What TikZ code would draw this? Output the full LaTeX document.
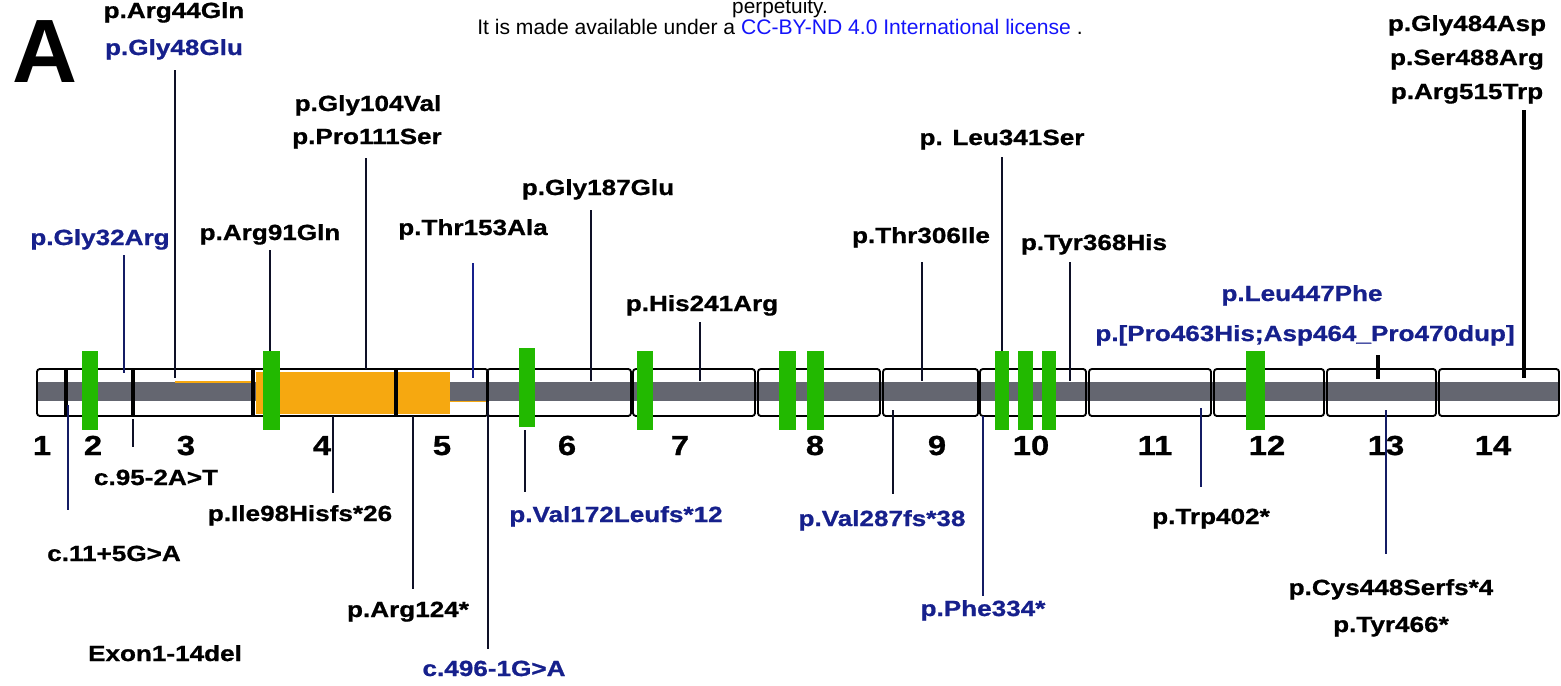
\documentclass[tikz,border=0pt]{standalone}
\usepackage{fontspec}
\setmainfont{Liberation Sans}
\newfontfamily\labfont[FakeStretch=1.19,UprightFont={* Bold},FakeBold=0.9]{Liberation Sans}
\definecolor{navy}{RGB}{22,32,140}
\definecolor{linkblue}{RGB}{20,20,250}
\definecolor{exgreen}{RGB}{34,185,0}
\definecolor{orng}{RGB}{246,168,16}
\definecolor{bandgray}{RGB}{100,102,112}
\definecolor{leadc}{RGB}{14,16,38}
\definecolor{leadnavy}{RGB}{20,28,100}
\newcommand\leadline[5][]{%
  \coordinate (#2a) at (#3,#4);
  \coordinate (#2b) at (#3,#5);
  \draw[leader,#1] (#2a) -- (#2b);}
\begin{document}
\begin{tikzpicture}[x=0.025cm,y=-0.025cm,
  lab/.style={font=\labfont\fontsize{15.6}{18}\selectfont, inner sep=0pt, anchor=base, text=black},
  blab/.style={lab, text=navy},
  num/.style={font=\labfont\fontsize{19.6}{22}\selectfont, inner sep=0pt, anchor=base},
  boxline/.style={draw=black, line width=1.3pt, rounded corners=2pt},
  divider/.style={line width=2.6pt, draw=black},
  gbar/.style={fill=exgreen},
  leader/.style={line width=1.8pt, draw=leadc},
  thickleader/.style={line width=2.8pt, draw=black}]
\useasboundingbox (0,0) rectangle (1561,685);
\clip (0,0) rectangle (1561,685);
% header text
\node[anchor=base, inner sep=0pt, font=\fontsize{14.8}{17}\selectfont] (perp) at (780,13.5) {perpetuity.};
\node[anchor=base, inner sep=0pt, font=\fontsize{15}{17}\selectfont] (lic) at (780,34) {It is made available under a \textcolor{linkblue}{CC-BY-ND 4.0 International license} .};
\node[anchor=base, inner sep=0pt, font=\bfseries\fontsize{64}{70}\selectfont] (panelA) at (45,82) {A};
% gene bar
\fill[bandgray] (37,382) rectangle (1559,401);
\fill[orng] (256,372) rectangle (450,414);
\draw[orng, line width=1pt] (175,382) -- (253,382);
\draw[orng, line width=1pt] (450,401.5) -- (488,401.5);
\draw[boxline] (37,369) rectangle (488,416);
\foreach \a/\b in {487/631, 633/755, 758/880, 883/978, 980/1086, 1089/1211, 1214/1324, 1327/1436, 1439/1559}
  \draw[boxline] (\a,369) rectangle (\b,416);
\foreach \x in {66,133,253,396}
  \draw[divider] (\x,369) -- (\x,416);
\foreach \a/\b in {82/98, 263/280, 637/653, 779/796, 807/824, 995/1009, 1018/1033, 1042/1056, 1246/1265}
  \fill[gbar] (\a,351) rectangle (\b,430);
\fill[gbar] (519,348) rectangle (535,427);
% exon numbers
\foreach \n/\x in {1/42, 2/93, 3/186, 4/322, 5/442, 6/567, 7/680, 8/815, 9/937, 10/1031, 11/1155, 12/1267, 13/1386, 14/1493}
  \node[num] (e\n) at (\x,455) {\n};
% leaders above
\leadline{l48}{175}{70}{378}
\leadline{l104}{366}{158}{369}
\leadline[draw=leadnavy]{l32}{124}{255}{373}
\leadline{l91}{270}{250}{351}
\leadline[draw=navy]{l153}{473}{263}{378}
\leadline{l187}{591}{210}{381}
\leadline{l241}{700}{322}{381}
\leadline{l306}{922}{262}{381}
\leadline{l341}{1002}{157}{351}
\leadline{l368}{1070}{262}{381}
\leadline[thickleader]{l463}{1378}{355}{379}
\leadline[thickleader]{l515}{1524}{110}{378}
% leaders below
\leadline[draw=leadnavy]{l11}{68}{405}{510}
\leadline{l95}{133}{419}{447}
\leadline{l98}{333}{416}{493}
\leadline{l124}{413}{416}{589}
\leadline{l496}{488}{402}{649}
\leadline{l172}{525}{430}{492}
\leadline{l287}{893}{410}{494}
\leadline[draw=leadnavy]{l334}{983}{416}{596}
\leadline[draw=leadnavy]{l402}{1201}{408}{487}
\leadline[draw=leadnavy]{l448}{1386}{410}{554}
% labels above
\node[lab] (t44) at (174,18) {p.Arg44Gln};
\node[blab] (t48) at (174,55) {p.Gly48Glu};
\node[lab] (t104) at (368,111) {p.Gly104Val};
\node[lab] (t111) at (367,144) {p.Pro111Ser};
\node[blab] (t32) at (100,245) {p.Gly32Arg};
\node[lab] (t91) at (270,240) {p.Arg91Gln};
\node[lab] (t153) at (473,235) {p.Thr153Ala};
\node[lab] (t187) at (598,195) {p.Gly187Glu};
\node[lab] (t241) at (702,311) {p.His241Arg};
\node[lab] (t306) at (921,243) {p.Thr306Ile};
\node[lab] (t341) at (1002,145) {p. Leu341Ser};
\node[lab] (t368) at (1094,250) {p.Tyr368His};
\node[blab] (t447) at (1302,301) {p.Leu447Phe};
\node[blab] (t463) at (1305,341) {p.[Pro463His;Asp464\_Pro470dup]};
\node[lab] (t484) at (1467,31) {p.Gly484Asp};
\node[lab] (t488) at (1467,65) {p.Ser488Arg};
\node[lab] (t515) at (1467,99) {p.Arg515Trp};
% labels below
\node[lab] (t95) at (156,485) {c.95-2A>T};
\node[lab] (t11) at (114,561) {c.11+5G>A};
\node[lab] (t98) at (300,521) {p.Ile98Hisfs*26};
\node[lab] (t124) at (408,617) {p.Arg124*};
\node[lab] (tdel) at (165,661) {Exon1-14del};
\node[blab] (t496) at (494,676) {c.496-1G>A};
\node[blab] (t172) at (616,522) {p.Val172Leufs*12};
\node[blab] (t287) at (882,526) {p.Val287fs*38};
\node[blab] (t334) at (983,616) {p.Phe334*};
\node[lab] (t402) at (1211,524) {p.Trp402*};
\node[lab] (t448) at (1391,595) {p.Cys448Serfs*4};
\node[lab] (t466) at (1391,632) {p.Tyr466*};
\end{tikzpicture}
\end{document}
